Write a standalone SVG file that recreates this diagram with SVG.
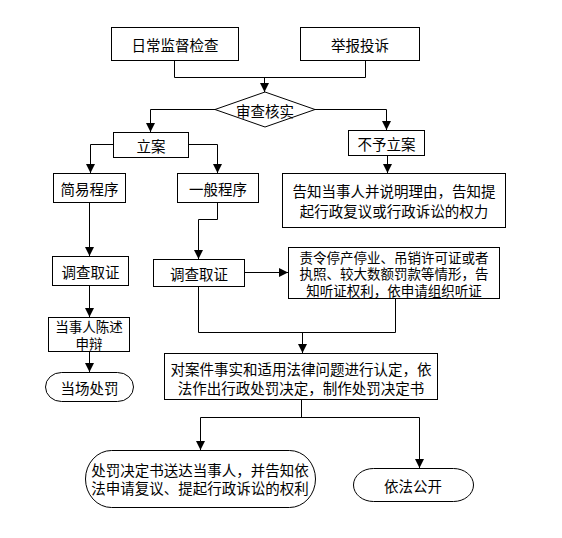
<svg xmlns="http://www.w3.org/2000/svg" width="562" height="538" viewBox="0 0 562 538">
<style>
.b{fill:#fff;stroke:#000;stroke-width:1}
.t{font-family:"Noto Sans CJK SC","Liberation Sans",sans-serif;font-size:14.5px;fill:#000;text-anchor:middle;dominant-baseline:central}
.s{font-size:13.5px}
.c{fill:none;stroke:#000;stroke-width:1}
</style>
<defs>
<marker id="a" markerUnits="userSpaceOnUse" markerWidth="9" markerHeight="9" refX="9" refY="4.5" orient="auto">
<path d="M0,0 L9,4.5 L0,9 z" fill="#000"/>
</marker>
</defs>
<rect width="562" height="538" fill="#fff"/>
<g id="connectors">
<path class="c" d="M174.5,60 V77.5 H365.5 V60"/>
<path class="c" d="M264.5,77.5 V92" marker-end="url(#a)"/>
<path class="c" d="M215,109.5 H150.5 V132" marker-end="url(#a)"/>
<path class="c" d="M315,109.5 H386.5 V130" marker-end="url(#a)"/>
<path class="c" d="M113,144.5 H90.5 V173" marker-end="url(#a)"/>
<path class="c" d="M188,144.5 H217.5 V173" marker-end="url(#a)"/>
<path class="c" d="M387.5,155 V173" marker-end="url(#a)"/>
<path class="c" d="M89.5,202 V256" marker-end="url(#a)"/>
<path class="c" d="M217.5,202 V219.5 H198.5 V259" marker-end="url(#a)"/>
<path class="c" d="M89.5,285 V317" marker-end="url(#a)"/>
<path class="c" d="M89.5,351 V372" marker-end="url(#a)"/>
<path class="c" d="M244,272.5 H288" marker-end="url(#a)"/>
<path class="c" d="M198.5,286 V332.5 H395.5 V298"/>
<path class="c" d="M302.5,332.5 V353" marker-end="url(#a)"/>
<path class="c" d="M301.5,399 V417.5"/>
<path class="c" d="M200.5,417.5 H419.5"/>
<path class="c" d="M200.5,417.5 V450" marker-end="url(#a)"/>
<path class="c" d="M419.5,417.5 V468" marker-end="url(#a)"/>
</g>
<g id="n1"><rect class="b" x="111.5" y="27.5" width="127" height="33"/><text class="t" x="175" y="44">日常监督检查</text></g>
<g id="n2"><rect class="b" x="300.5" y="27.5" width="119" height="33"/><text class="t" x="360" y="44">举报投诉</text></g>
<g id="n3"><polygon class="b" points="265,92 315,109.5 265,127 215,109.5"/><text class="t" x="265" y="110">审查核实</text></g>
<g id="n4"><rect class="b" x="113.5" y="132.5" width="75" height="25"/><text class="t" x="151" y="145">立案</text></g>
<g id="n5"><rect class="b" x="348.5" y="130.5" width="76" height="25"/><text class="t" x="386.5" y="143">不予立案</text></g>
<g id="n6"><rect class="b" x="53.5" y="173.5" width="72" height="29"/><text class="t" x="89.5" y="188">简易程序</text></g>
<g id="n7"><rect class="b" x="177.5" y="173.5" width="81" height="29"/><text class="t" x="218" y="188">一般程序</text></g>
<g id="n8"><rect class="b" x="282.5" y="173.5" width="223" height="54"/><text class="t" x="394" y="190">告知当事人并说明理由，告知提</text><text class="t" x="394" y="210">起行政复议或行政诉讼的权力</text></g>
<g id="n9"><rect class="b" x="52.5" y="256.5" width="76" height="29"/><text class="t" x="90.5" y="271">调查取证</text></g>
<g id="n10"><rect class="b" x="153.5" y="259.5" width="91" height="27"/><text class="t" x="199" y="273">调查取证</text></g>
<g id="n11"><rect class="b" x="288.5" y="247.5" width="211" height="51"/><text class="t s" x="394" y="256.5">责令停产停业、吊销许可证或者</text><text class="t s" x="394" y="273">执照、较大数额罚款等情形，告</text><text class="t s" x="394" y="289.5">知听证权利，依申请组织听证</text></g>
<g id="n12"><rect class="b" x="48.5" y="317.5" width="81" height="34"/><text class="t s" x="89" y="326">当事人陈述</text><text class="t s" x="89" y="342.5">申辩</text></g>
<g id="n13"><rect class="b" x="45.5" y="372.5" width="88" height="29" rx="16" ry="14.5"/><text class="t" x="89.5" y="387">当场处罚</text></g>
<g id="n14"><rect class="b" x="164.5" y="353.5" width="273" height="46"/><text class="t" x="301" y="368">对案件事实和适用法律问题进行认定，依</text><text class="t" x="301" y="387">法作出行政处罚决定，制作处罚决定书</text></g>
<g id="n15"><rect class="b" x="85.5" y="450.5" width="230" height="57" rx="26" ry="28.5"/><text class="t" x="200" y="469">处罚决定书送达当事人，并告知依</text><text class="t" x="200" y="487">法申请复议、提起行政诉讼的权利</text></g>
<g id="n16"><rect class="b" x="353.5" y="468.5" width="120" height="33" rx="20" ry="16.5"/><text class="t" x="413" y="485">依法公开</text></g>
</svg>
